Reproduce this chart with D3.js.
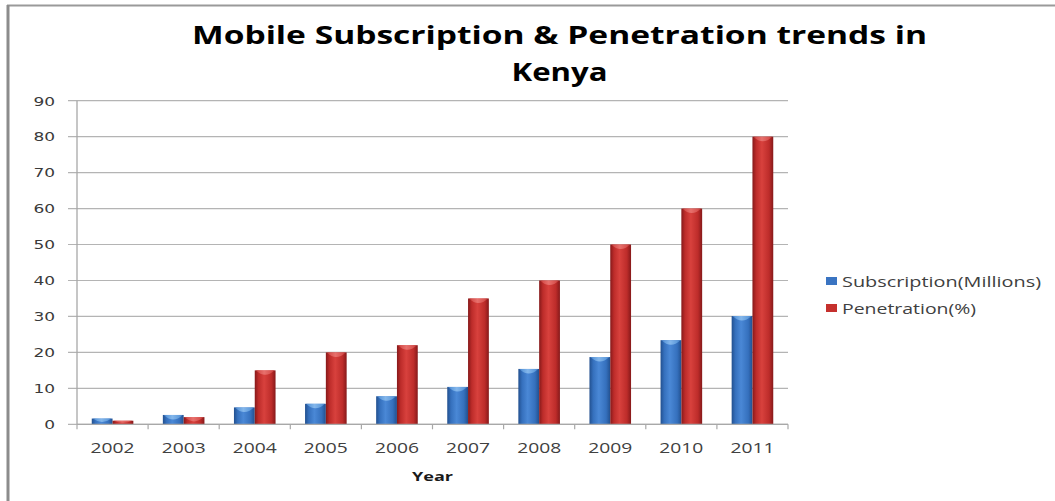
<!DOCTYPE html>
<html>
<head>
<meta charset="utf-8">
<script src="https://cdn.jsdelivr.net/npm/d3@7"></script>
<style>
  html, body { margin: 0; padding: 0; background: #fff; }
  svg { display: block; }
</style>
</head>
<body>
<svg id="chart" width="1055" height="501"></svg>
<script>
// Mobile subscriptions (millions) and penetration (%) in Kenya, 2002-2011
const years = ["2002", "2003", "2004", "2005", "2006", "2007", "2008", "2009", "2010", "2011"];
const subscription = [1.6, 2.6, 4.7, 5.7, 7.8, 10.4, 15.4, 18.7, 23.4, 30.1];
const penetration = [1.0, 2.0, 15, 20, 22, 35, 40, 50, 60, 80];
const seriesNames = ["Subscription(Millions)", "Penetration(%)"];
const yTicks = [0, 10, 20, 30, 40, 50, 60, 70, 80, 90];
const titleLines = ["Mobile Subscription & Penetration trends in", "Kenya"];
const xTitle = "Year";

const svg = d3.select("#chart");
const W = 1055, H = 501;
const plot = { left: 77, right: 788, top: 100.7, bottom: 424.3 };

// frame around the chart area
svg.append("line").attr("x1", 7).attr("x2", W).attr("y1", 5.5).attr("y2", 5.5)
  .attr("stroke", "#9a9a9a").attr("stroke-width", 2);
svg.append("line").attr("x1", 8).attr("x2", 8).attr("y1", 5).attr("y2", H)
  .attr("stroke", "#8c8c8c").attr("stroke-width", 3);

// gradients giving the bars a rounded, cylindrical look
const defs = svg.append("defs");
function barGradient(id, dark, mid, light) {
  const g = defs.append("linearGradient").attr("id", id)
    .attr("x1", "0%").attr("x2", "100%").attr("y1", "0%").attr("y2", "0%");
  g.append("stop").attr("offset", "0%").attr("stop-color", dark);
  g.append("stop").attr("offset", "18%").attr("stop-color", mid);
  g.append("stop").attr("offset", "45%").attr("stop-color", light);
  g.append("stop").attr("offset", "80%").attr("stop-color", mid);
  g.append("stop").attr("offset", "100%").attr("stop-color", dark);
}
barGradient("gBlue", "#22508f", "#3570bd", "#4a88d6");
barGradient("gRed", "#86191a", "#bd2c2a", "#d8413d");
barGradient("gBlueCap", "#4a86d0", "#6aa5e2", "#8ebfef");
barGradient("gRedCap", "#c43a37", "#dd5a57", "#ea7975");

const colors = [
  { body: "url(#gBlue)", cap: "url(#gBlueCap)", swatch: "#3a74c2" },
  { body: "url(#gRed)", cap: "url(#gRedCap)", swatch: "#c5302d" }
];

const x = d3.scaleBand().domain(years).range([plot.left, plot.right])
  .paddingInner(0.415).paddingOuter(0.2075);
const xs = d3.scaleBand().domain([0, 1]).range([0, x.bandwidth()]);
const y = d3.scaleLinear().domain([0, 90]).range([plot.bottom, plot.top]);

// horizontal gridlines (extend left past the axis as tick marks)
svg.append("g").selectAll("line").data(yTicks).join("line")
  .attr("x1", plot.left - 9).attr("x2", plot.right)
  .attr("y1", d => y(d)).attr("y2", d => y(d))
  .attr("stroke", "#b4b4b4").attr("stroke-width", 1.2);

// y axis labels
svg.append("g").selectAll("text").data(yTicks).join("text")
  .attr("x", 55).attr("y", d => y(d) + 4.8)
  .attr("text-anchor", "end")
  .attr("font-family", "DejaVu Sans, sans-serif").attr("font-size", 12.5)
  .attr("fill", "#3a3a3a")
  .attr("textLength", d => String(d).length * 10.8)
  .attr("lengthAdjust", "spacingAndGlyphs")
  .text(d => d);

// y axis line
svg.append("line").attr("x1", plot.left).attr("x2", plot.left)
  .attr("y1", plot.top).attr("y2", plot.bottom)
  .attr("stroke", "#a8a8a8").attr("stroke-width", 1.3);

// bars
const series = [subscription, penetration];
const groups = svg.append("g").selectAll("g").data(years).join("g")
  .attr("transform", d => `translate(${x(d)},0)`);
series.forEach((vals, si) => {
  groups.append("rect")
    .attr("x", xs(si)).attr("width", xs.bandwidth())
    .attr("y", (d, i) => y(vals[i]))
    .attr("height", (d, i) => y(0) - y(vals[i]))
    .attr("fill", colors[si].body);
  // lighter cap at the top of each bar
  groups.append("path")
    .attr("d", (d, i) => {
      const x0 = xs(si), w = xs.bandwidth(), t = y(vals[i]);
      const h = Math.min(4.5, (y(0) - t) * 0.6);
      return `M${x0 + 1},${t} L${x0 + w - 1},${t} Q${x0 + w / 2},${t + h * 2} ${x0 + 1},${t} Z`;
    })
    .attr("fill", colors[si].cap).attr("opacity", 0.85);
});

// x axis with ticks at category boundaries
svg.append("line").attr("x1", plot.left).attr("x2", plot.right)
  .attr("y1", plot.bottom).attr("y2", plot.bottom)
  .attr("stroke", "#a8a8a8").attr("stroke-width", 1.3);
const bounds = years.map(d => x(d) - x.step() * x.paddingOuter()).concat([plot.right]);
svg.append("g").selectAll("line").data(bounds).join("line")
  .attr("x1", d => d).attr("x2", d => d)
  .attr("y1", plot.bottom).attr("y2", plot.bottom + 5)
  .attr("stroke", "#a8a8a8").attr("stroke-width", 1.2);

// x labels
svg.append("g").selectAll("text").data(years).join("text")
  .attr("x", d => x(d) + x.bandwidth() / 2).attr("y", 453)
  .attr("text-anchor", "middle")
  .attr("font-family", "Open Sans, sans-serif").attr("font-size", 14)
  .attr("fill", "#404040")
  .attr("textLength", 44).attr("lengthAdjust", "spacingAndGlyphs")
  .text(d => d);

// x axis title
svg.append("text").attr("x", (plot.left + plot.right) / 2).attr("y", 481)
  .attr("text-anchor", "middle")
  .attr("font-family", "Open Sans, sans-serif").attr("font-weight", "bold").attr("font-size", 13)
  .attr("fill", "#1a1a1a")
  .attr("textLength", 41).attr("lengthAdjust", "spacingAndGlyphs")
  .text(xTitle);

// title
const titleWidths = [735, 96];
const titleBase = [44, 81];
titleLines.forEach((t, i) => {
  svg.append("text").attr("x", 559.5).attr("y", titleBase[i])
    .attr("text-anchor", "middle")
    .attr("font-family", "Open Sans, sans-serif").attr("font-weight", "bold").attr("font-size", 25)
    .attr("fill", "#000")
    .attr("textLength", titleWidths[i]).attr("lengthAdjust", "spacingAndGlyphs")
    .text(t);
});

// legend
const legendY = [281, 308];
const legendW = [199, 134];
seriesNames.forEach((name, i) => {
  svg.append("rect").attr("x", 826).attr("y", legendY[i] - 4).attr("width", 11).attr("height", 8)
    .attr("fill", colors[i].swatch);
  svg.append("text").attr("x", 842).attr("y", legendY[i] + 5.5)
    .attr("font-family", "Open Sans, sans-serif").attr("font-size", 14)
    .attr("fill", "#404040")
    .attr("textLength", legendW[i]).attr("lengthAdjust", "spacingAndGlyphs")
    .text(name);
});
</script>
</body>
</html>
